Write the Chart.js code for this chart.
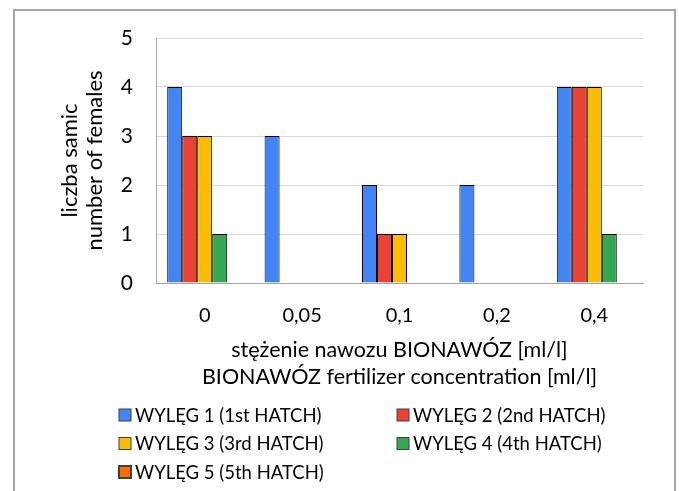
<!DOCTYPE html>
<html>
<head>
<meta charset="utf-8">
<script src="https://cdn.jsdelivr.net/npm/chart.js@4"></script>
<style>
  html, body { margin: 0; padding: 0; background: #fff; }
  #wrap { position: relative; width: 679px; height: 491px; overflow: hidden; }
  #frame { position: absolute; left: 13px; top: 9px; width: 659px; height: 520px; border: 2px solid #a6a6a6; }
  #chart { position: absolute; left: 0; top: 0; }
</style>
</head>
<body>
<div id="wrap">
  <div id="frame"></div>
  <canvas id="chart" width="679" height="491"></canvas>
</div>
<script>
// dane z wykresu
const categories = ['0', '0,05', '0,1', '0,2', '0,4'];
const seriesNames = ['WYLĘG 1 (1st HATCH)', 'WYLĘG 2 (2nd HATCH)', 'WYLĘG 3 (3rd HATCH)', 'WYLĘG 4 (4th HATCH)', 'WYLĘG 5 (5th HATCH)'];
const hatch1 = [4, 3, 2, 2, 4];
const hatch2 = [3, 0, 1, 0, 4];
const hatch3 = [3, 0, 1, 0, 4];
const hatch4 = [1, 0, 0, 0, 1];
const hatch5 = [0, 0, 0, 0, 0];
const yTicks = [0, 1, 2, 3, 4, 5];

const colors = ['#4285f4', '#ea4335', '#fbbc04', '#34a853', '#ff6d01'];
const FONT = 'Lato, "DejaVu Sans", sans-serif';

// legenda w dwóch kolumnach (jak w Excelu)
const gridLegend = {
    id: 'gridLegend',
    afterDraw(chart, args, opts) {
        const ctx = chart.ctx;
        ctx.save();
        ctx.font = opts.fontSize + 'px ' + FONT;
        ctx.textBaseline = 'middle';
        chart.data.datasets.forEach(function (ds, i) {
            const col = i % opts.columns;
            const row = Math.floor(i / opts.columns);
            const x = opts.left + col * opts.colWidth;
            const y = opts.top + row * opts.rowHeight;
            ctx.fillStyle = ds.backgroundColor;
            ctx.fillRect(x, y - opts.box / 2, opts.box, opts.box);
            ctx.lineWidth = ds.legendBorder || 1;
            ctx.strokeStyle = '#404040';
            ctx.strokeRect(x, y - opts.box / 2, opts.box, opts.box);
            ctx.fillStyle = '#000';
            ctx.fillText(ds.label, x + opts.box + 4, y + 1);
        });
        ctx.restore();
    }
};

const values = [hatch1, hatch2, hatch3, hatch4, hatch5];

new Chart(document.getElementById('chart'), {
    type: 'bar',
    data: {
        labels: categories,
        datasets: values.map(function (v, i) {
            return {
                label: seriesNames[i],
                data: v,
                backgroundColor: colors[i],
                borderColor: '#000',
                borderWidth: 1,
                legendBorder: i === 4 ? 2 : 1,
                barPercentage: 1,
                categoryPercentage: 0.77
            };
        })
    },
    options: {
        responsive: false,
        animation: false,
        layout: { padding: { left: 0, top: 38, right: 36, bottom: 100 } },
        plugins: {
            legend: { display: false },
            tooltip: { enabled: false },
            gridLegend: { columns: 2, left: 119, colWidth: 278, top: 415, rowHeight: 28.5, box: 12, fontSize: 18.5 }
        },
        scales: {
            x: {
                grid: { display: false, drawTicks: false },
                border: { color: '#a6a6a6', width: 1 },
                ticks: { color: '#000', padding: 21, font: { family: FONT, size: 20 } },
                title: {
                    display: true,
                    text: ['stężenie nawozu BIONAWÓZ [ml/l]', 'BIONAWÓZ fertilizer concentration [ml/l]'],
                    color: '#000',
                    font: { family: FONT, size: 21.5, lineHeight: 1.26 },
                    padding: { top: 0, bottom: 0 }
                },
                afterFit: function (scale) { scale.height = 108; }
            },
            y: {
                min: 0,
                max: 5,
                afterBuildTicks: function (scale) { scale.ticks = yTicks.map(function (v) { return { value: v }; }); },
                grid: { color: '#d9d9d9', lineWidth: 1, drawTicks: false },
                border: { color: '#a6a6a6', width: 1 },
                ticks: { color: '#000', padding: 23, font: { family: FONT, size: 21 } },
                title: {
                    display: true,
                    text: ['liczba samic', 'number of females'],
                    color: '#000',
                    font: { family: FONT, size: 22, lineHeight: 1.15 },
                    padding: { top: 57, bottom: 0 }
                },
                afterFit: function (scale) { scale.width = 156; }
            }
        }
    },
    plugins: [gridLegend]
});
</script>
</body>
</html>
